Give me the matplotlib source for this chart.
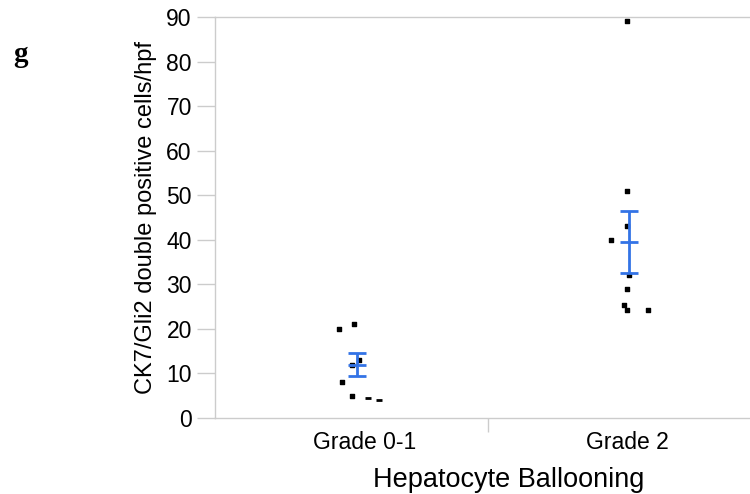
import matplotlib.pyplot as plt
import numpy as np

# データ
categories = ["Grade 0-1", "Grade 2"]
g01_x = [-0.047, 0.008, 0.001, 0.024, -0.038, 0.001]
g01_y = [20, 21, 12, 13, 8, 5]
g01_dash_x = [0.06, 0.098]
g01_dash_y = [4.6, 4.0]
g2_x = [1.008, 1.008, 1.008, 0.950, 1.016, 1.008, 0.997, 1.008, 1.085]
g2_y = [89, 51, 43, 40, 32, 29, 25.4, 24.2, 24.2]
means = [12.0, 39.4]
err_low = [2.5, 6.9]
err_high = [2.5, 7.1]
err_x = [0.017, 1.016]
yticks = np.arange(0, 100, 10)

plt.rcParams['font.family'] = ['Liberation Sans', 'DejaVu Sans']
fig = plt.figure(figsize=(7.5, 4.94), dpi=100)
ax = fig.add_axes([0.2873, 0.1538, 0.728, 0.8117])

ax.scatter(g01_x, g01_y, marker="s", s=12, color="k", zorder=3)
ax.scatter(g2_x, g2_y, marker="s", s=12, color="k", zorder=3)
ax.plot(g01_dash_x, g01_dash_y, ls="none", marker="_", ms=5, mew=2.0, color="k", zorder=3)

# 平均とエラーバー
ax.errorbar(err_x, means, yerr=[err_low, err_high], fmt="none", ecolor="#3373e6",
            elinewidth=2, capsize=6.5, capthick=2, zorder=4)
ax.scatter(err_x, means, marker="_", s=180, linewidths=2, color="#3373e6", zorder=4)

ax.set_xlim(-0.5, 1.5)
ax.set_ylim(0, 90)
ax.set_yticks(yticks)
# ラベル位置は元図に合わせて少しずらす
ax.set_xticks([0.048, 1.007])
ax.set_xticklabels(categories, fontsize=16.5)
ax.set_xticks([0.5], minor=True)
ax.tick_params(axis="x", which="major", length=0, pad=9)
ax.tick_params(axis="x", which="minor", length=10, color="#cccccc", width=1)
ax.tick_params(axis="y", labelsize=16.5, length=13, color="#cccccc", width=1, pad=4)

# 枠線は左と下だけ、上の線は別に引く
for s in ["left", "bottom"]:
    ax.spines[s].set_color("#cccccc")
    ax.spines[s].set_linewidth(1)
ax.spines["right"].set_visible(False)
ax.spines["top"].set_visible(False)
ax.axhline(90, color="#cccccc", lw=1, clip_on=False, zorder=1)
ax.patch.set_visible(False)

ax.set_xlabel("Hepatocyte Ballooning", fontsize=19.5, labelpad=9.5, x=0.5375)
ax.set_ylabel("CK7/Gli2 double positive cells/hpf", fontsize=17, labelpad=7)

fig.text(0.018, 0.875, "g", fontsize=21, fontweight="bold", family="Liberation Serif")

plt.savefig("out.png", dpi=100)
